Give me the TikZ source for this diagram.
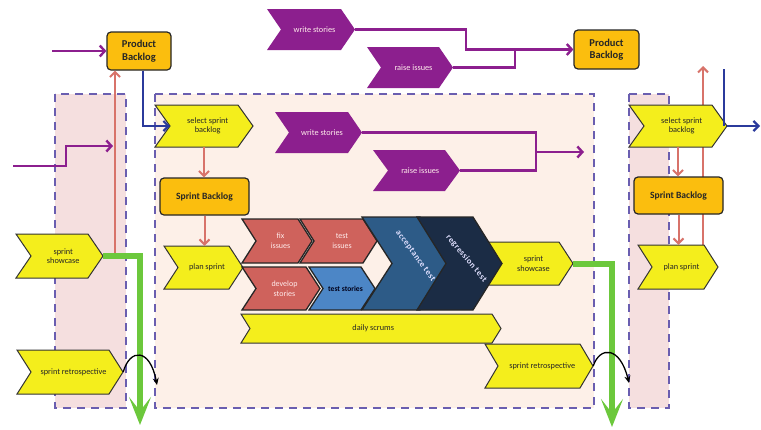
\documentclass[tikz,border=0pt]{standalone}
\usepackage{fontspec}
\setmainfont{Carlito}
\newfontfamily\spacedfont[LetterSpace=6]{Carlito}
\usetikzlibrary{arrows.meta,calc}
\definecolor{yel}{HTML}{F4EE1C}
\definecolor{org}{HTML}{FBBE0E}
\definecolor{purp}{HTML}{8C1F8E}
\definecolor{tred}{HTML}{CF625C}
\definecolor{tblue}{HTML}{4C86C6}
\definecolor{accc}{HTML}{2D5B87}
\definecolor{regc}{HTML}{1B2C45}
\definecolor{pinkbg}{HTML}{F5DFDF}
\definecolor{peach}{HTML}{FDF0E8}
\definecolor{dashc}{HTML}{6A5EB0}
\definecolor{grn}{HTML}{6CC83C}
\definecolor{rline}{HTML}{D8736A}
\definecolor{bline}{HTML}{2B3A9C}
% chevron: name, x1, y1, x2, y2, depth, path style, text style, text
\newcommand\chev[9]{%
  \pgfmathsetmacro\chxa{#4-#6}%
  \pgfmathsetmacro\chym{(#3+#5)/2}%
  \pgfmathsetmacro\chxb{#2+#6}%
  \pgfmathsetmacro\chxc{(#2+#4)/2}%
  \pgfmathsetmacro\chxt{(#2+#4)/2+#6/4}%
  \pgfmathsetmacro\chw{#4-#2}%
  \pgfmathsetmacro\chh{#5-#3}%
  \path[#7] (#2,#3) -- (\chxa,#3) -- (#4,\chym) -- (\chxa,#5) -- (#2,#5) -- (\chxb,\chym) -- cycle;
  \node[inner sep=0pt, minimum width=\chw pt, minimum height=\chh pt] (#1) at (\chxc,\chym) {};
  \coordinate (#1-n) at (\chxb,\chym);
  \node[#8] (#1-t) at (\chxt,\chym) {#9};
}
\tikzset{
  region/.style={draw=dashc, line width=1.8pt, dash pattern=on 8pt off 6pt},
  ychev/.style={fill=yel, draw=black!80, line width=1pt, line join=miter},
  pchev/.style={fill=purp},
  rchev/.style={fill=tred, draw=black!85, line width=1.3pt},
  bchev/.style={fill=tblue, draw=black!85, line width=1.3pt},
  achev/.style={fill=accc, draw=black!85, line width=1.3pt},
  gchev/.style={fill=regc, draw=black!85, line width=1.3pt},
  ytxt/.style={font=\fontsize{8.3}{9.5}\selectfont, align=center, text=black!85, inner sep=0pt},
  wtxt/.style={font=\fontsize{8}{10}\selectfont, align=center, text=white!92!red, inner sep=0pt},
  ptxt/.style={font=\fontsize{8.3}{9}\selectfont, align=center, text=white!92!red, inner sep=0pt},
  btxt/.style={font=\bfseries\fontsize{7.6}{8}\selectfont, align=center, text=black!90!blue, inner sep=0pt},
  rtxt/.style={font=\spacedfont\bfseries\fontsize{8.5}{9}\selectfont, text=white!88!blue, inner sep=0pt},
  pbox/.style={draw=black!85, line width=1.2pt, rounded corners=4pt, fill=org, font=\bfseries\fontsize{10.5}{12.5}\selectfont, align=center, inner sep=0pt, text=black!85},
  sbox/.style={pbox, font=\bfseries\fontsize{9.6}{11}\selectfont},
  parr/.style={draw=purp, line width=2.4pt, -{Straight Barb[length=5pt,width=11pt]}},
  pline/.style={draw=purp, line width=2.4pt},
  rarr/.style={draw=rline, line width=2pt, -{Straight Barb[length=5pt,width=10pt]}},
  barr/.style={draw=bline, line width=2.2pt, -{Straight Barb[length=5pt,width=10pt]}},
  bln/.style={draw=bline, line width=2.2pt},
  garr/.style={draw=grn, line width=6pt, -{Stealth[length=28pt,width=22pt,inset=14pt]}},
  carr/.style={draw=black, line width=1.3pt, -{Stealth[length=7pt,width=6pt]}}
}
\begin{document}
\begin{tikzpicture}[x=1pt,y=-1pt]
\useasboundingbox (0,0) rectangle (761,429);
\fill[white] (0,0) rectangle (761,429);
% regions
\path[fill=pinkbg] (55,94) rectangle (126,408);
\path[fill=peach] (155,94) rectangle (594,408);
\path[fill=pinkbg] (629,94) rectangle (669,408);
\draw[region] (55,94) rectangle (126,408);
\draw[region] (155,94) rectangle (594,408);
\draw[region] (629,94) rectangle (669,408);
% backlog boxes
\node[pbox, minimum width=64pt, minimum height=38pt] (pb1) at (139,51) {Product\\Backlog};
\node[pbox, minimum width=65pt, minimum height=39pt] (pb2) at (606.5,49.5) {Product\\Backlog};
\node[sbox, minimum width=89pt, minimum height=37pt] (sb1) at (204.5,196.5) {Sprint Backlog};
% right red line behind boxes
\coordinate (rr0) at (703,66);
\coordinate (rrb) at (703,245);
\draw[rarr] (rrb) -- (rr0);
\node[sbox, minimum width=89pt, minimum height=37pt] (sb2) at (678.5,195.5) {Sprint Backlog};
% purple chevrons
\chev{ws1}{267}{9}{355}{50}{14}{pchev}{ptxt}{write stories}
\chev{ri1}{367}{47}{453}{88}{14}{pchev}{ptxt}{raise issues}
\chev{ws2}{275}{112}{362}{153}{14}{pchev}{ptxt}{write stories}
\chev{ri2}{373}{150}{460}{191}{15}{pchev}{ptxt}{raise issues}
% yellow chevrons
\chev{sel1}{155}{105}{253}{147}{15}{ychev}{ytxt}{select sprint\\backlog}
\chev{plan1}{164}{246}{243}{289}{14}{ychev}{ytxt}{plan sprint}
\chev{show0}{16}{234}{103}{278}{15}{ychev}{ytxt}{sprint\\showcase}
\chev{retro0}{17}{350}{123}{394}{14}{ychev}{ytxt}{sprint retrospective}
\chev{scrum}{241}{314}{501}{343}{9}{ychev}{ytxt}{daily scrums}
\chev{retro1}{485}{344}{593}{388}{13}{ychev}{ytxt}{sprint retrospective}
\chev{sel2}{629}{105}{727}{147}{15}{ychev}{ytxt}{select sprint\\backlog}
\chev{plan2}{638}{245}{718}{289}{14}{ychev}{ytxt}{plan sprint}
% tasks
\chev{fix}{242}{219}{312}{263}{14}{rchev}{wtxt}{fix\\issues}
\chev{testi}{300}{219}{377}{263}{14}{rchev}{wtxt}{test\\issues}
\chev{dev}{242}{267}{320}{310}{14}{rchev}{wtxt}{develop\\stories}
\chev{tests}{309}{267}{375}{310}{14}{bchev}{btxt}{test stories}
\chev{show1}{487}{242}{573}{285}{14}{ychev}{ytxt}{sprint\\showcase}
\chev{acc}{362}{217}{450}{310}{30}{achev}{rtxt,rotate=-54,xshift=-5pt,yshift=6pt}{acceptance test}
\chev{regr}{417}{217}{502}{310}{29}{gchev}{rtxt,rotate=-50,xshift=-4pt,yshift=3pt}{regression test}
% purple connectors
\coordinate (pin1) at (52,51);
\draw[parr] (pin1) -- (pb1.west);
\draw[parr] (ws1.east) -| (466,49.5) -- (pb2.west);
\draw[pline] (ri1.east) -| (515,49.5);
\coordinate (pend) at (584,152);
\draw[parr] (ws2.east) -| (536,152) -- (pend);
\draw[pline] (ri2.east) -| (536,152);
\coordinate (pin2) at (13,166);
\coordinate (pend2) at (113,146);
% left red line
\coordinate (rl0) at (115,257);
\draw[rarr] (rl0) -- (rl0 |- pb1.south);
\draw[parr] (pin2) -- (66,166) |- (pend2);
% blue connectors
\draw[barr] ([xshift=4pt]pb1.south) |- (sel1-n);
\coordinate (bt) at (724,69);
\coordinate (bout) at (760,126);
\draw[bln] (bt) -- (bt |- sel2.east);
\draw[barr] (sel2.east) -- (bout);
% red arrows between boxes
\draw[rarr] (sel1.south) -- (sel1.south |- sb1.north);
\draw[rarr] (sb1.south) -- (sb1.south |- plan1.north);
\draw[rarr] (sel2.south) -- (sel2.south |- sb2.north);
\draw[rarr] (sb2.south) -- (sb2.south |- plan2.north);
% green arrows
\coordinate (gend0) at (140,425);
\coordinate (gend1) at (612,427);
\draw[garr] (show0.east) -| (gend0);
\draw[garr] (show1.east) -| (gend1);
% black curves
\coordinate (cend0) at (157,385);
\coordinate (cend1) at (629,383);
\draw[carr] (retro0.east) .. controls (130,348) and (150,348) .. (cend0);
\draw[carr] (retro1.east) .. controls (600,346) and (620,346) .. (cend1);
\end{tikzpicture}
\end{document}
